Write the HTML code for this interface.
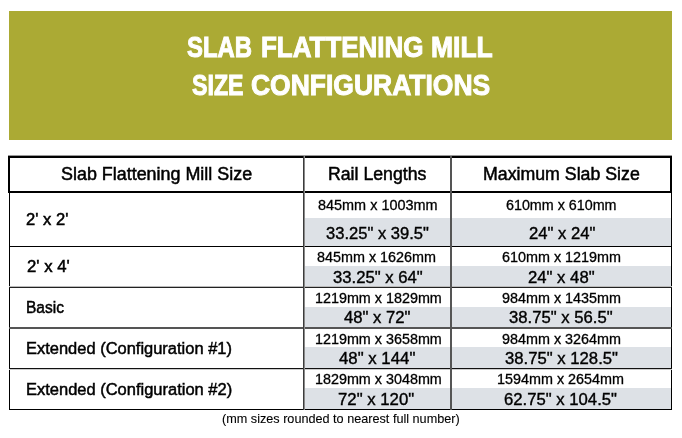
<!DOCTYPE html>
<html><head><meta charset="utf-8"><style>
*{margin:0;padding:0;box-sizing:border-box}
html,body{width:682px;height:438px;overflow:hidden;background:#fff}
body{position:relative;font-family:"Liberation Sans",Arial,sans-serif}
.b{position:absolute}
.t{position:absolute;white-space:nowrap;line-height:1;transform-origin:0 0}
.mk{display:inline-block;width:0;height:0;vertical-align:baseline}
</style></head>
<body>
<div class="b" style="left:9px;top:11px;width:663px;height:129px;background:#abaa34"></div>
<div class="b" style="left:305px;top:218px;width:366px;height:28px;background:#dde1e6"></div>
<div class="b" style="left:305px;top:266px;width:366px;height:20px;background:#dde1e6"></div>
<div class="b" style="left:305px;top:307px;width:366px;height:20px;background:#dde1e6"></div>
<div class="b" style="left:305px;top:347px;width:366px;height:21px;background:#dde1e6"></div>
<div class="b" style="left:305px;top:388px;width:366px;height:21px;background:#dde1e6"></div>
<div class="b" style="left:8px;top:155px;width:664px;height:1px;background:#999"></div>
<div class="b" style="left:8px;top:156px;width:664px;height:37px;border:2px solid #000"></div>
<div class="b" style="left:9px;top:193px;width:1px;height:217px;background:#000"></div>
<div class="b" style="left:671px;top:193px;width:1px;height:217px;background:#000"></div>
<div class="b" style="left:9px;top:246px;width:663px;height:1px;background:#000"></div>
<div class="b" style="left:9px;top:286px;width:663px;height:1px;background:#bbb"></div>
<div class="b" style="left:9px;top:287px;width:663px;height:1px;background:#222"></div>
<div class="b" style="left:9px;top:327px;width:663px;height:1px;background:#555"></div>
<div class="b" style="left:9px;top:328px;width:663px;height:1px;background:#555"></div>
<div class="b" style="left:9px;top:368px;width:663px;height:1px;background:#111"></div>
<div class="b" style="left:9px;top:369px;width:663px;height:1px;background:#ccc"></div>
<div class="b" style="left:9px;top:409px;width:663px;height:1px;background:#000"></div>
<div class="b" style="left:303px;top:156px;width:1px;height:254px;background:#3c3c3c"></div>
<div class="b" style="left:304px;top:156px;width:1px;height:254px;background:#8a8a8a"></div>
<div class="b" style="left:450px;top:156px;width:2px;height:254px;background:#555"></div>
<div class="t" id="t1a" style="left:187.23px;top:32.70px;font-size:29px;font-weight:700;color:#fff;-webkit-text-stroke:1.0px #fff;transform:scaleX(0.8224)">SLAB<span class="mk"></span></div>
<div class="t" id="t1b" style="left:260.69px;top:32.70px;font-size:29px;font-weight:700;color:#fff;-webkit-text-stroke:1.0px #fff;transform:scaleX(0.8953)">FLATTENING<span class="mk"></span></div>
<div class="t" id="t1c" style="left:431.13px;top:32.70px;font-size:29px;font-weight:700;color:#fff;-webkit-text-stroke:1.0px #fff;transform:scaleX(0.9129)">MILL<span class="mk"></span></div>
<div class="t" id="t2a" style="left:191.57px;top:71.40px;font-size:29px;font-weight:700;color:#fff;-webkit-text-stroke:1.0px #fff;transform:scaleX(0.7993)">SIZE<span class="mk"></span></div>
<div class="t" id="t2b" style="left:251.23px;top:71.40px;font-size:29px;font-weight:700;color:#fff;-webkit-text-stroke:1.0px #fff;transform:scaleX(0.9129)">CONFIGURATIONS<span class="mk"></span></div>
<div class="t" id="h1" style="left:61.04px;top:165.21px;font-size:18px;font-weight:400;color:#000;-webkit-text-stroke:0.5px #000;transform:scaleX(0.9948)">Slab Flattening Mill Size<span class="mk"></span></div>
<div class="t" id="h2" style="left:328.22px;top:165.21px;font-size:18px;font-weight:400;color:#000;-webkit-text-stroke:0.5px #000;transform:scaleX(0.9830)">Rail Lengths<span class="mk"></span></div>
<div class="t" id="h3" style="left:483.21px;top:165.21px;font-size:18px;font-weight:400;color:#000;-webkit-text-stroke:0.5px #000;transform:scaleX(0.9855)">Maximum Slab Size<span class="mk"></span></div>
<div class="t" id="c1" style="left:26.36px;top:210.90px;font-size:17.4px;font-weight:400;color:#000;-webkit-text-stroke:0.5px #000;transform:scaleX(0.9554)">2' x 2'<span class="mk"></span></div>
<div class="t" id="c2" style="left:26.60px;top:257.60px;font-size:17.4px;font-weight:400;color:#000;-webkit-text-stroke:0.5px #000;transform:scaleX(0.9634)">2' x 4'<span class="mk"></span></div>
<div class="t" id="c3" style="left:26.04px;top:299.01px;font-size:17.4px;font-weight:400;color:#000;-webkit-text-stroke:0.5px #000;transform:scaleX(0.8925)">Basic<span class="mk"></span></div>
<div class="t" id="c4" style="left:26.20px;top:339.81px;font-size:17.4px;font-weight:400;color:#000;-webkit-text-stroke:0.5px #000;transform:scaleX(0.9467)">Extended (Configuration #1)<span class="mk"></span></div>
<div class="t" id="c5" style="left:26.20px;top:380.60px;font-size:17.4px;font-weight:400;color:#000;-webkit-text-stroke:0.5px #000;transform:scaleX(0.9478)">Extended (Configuration #2)<span class="mk"></span></div>
<div class="t" id="m1" style="left:317.54px;top:197.80px;font-size:14.1px;font-weight:400;color:#000;-webkit-text-stroke:0.3px #000;transform:scaleX(1.0246)">845mm x 1003mm<span class="mk"></span></div>
<div class="t" id="i1" style="left:325.95px;top:224.91px;font-size:17px;font-weight:400;color:#000;-webkit-text-stroke:0.4px #000;transform:scaleX(0.9742)">33.25" x 39.5"<span class="mk"></span></div>
<div class="t" id="m2" style="left:317.36px;top:250.30px;font-size:14.1px;font-weight:400;color:#000;-webkit-text-stroke:0.3px #000;transform:scaleX(1.0193)">845mm x 1626mm<span class="mk"></span></div>
<div class="t" id="i2" style="left:332.50px;top:268.72px;font-size:17px;font-weight:400;color:#000;-webkit-text-stroke:0.4px #000;transform:scaleX(0.9814)">33.25" x 64"<span class="mk"></span></div>
<div class="t" id="m3" style="left:314.56px;top:290.71px;font-size:14.1px;font-weight:400;color:#000;-webkit-text-stroke:0.3px #000;transform:scaleX(1.0181)">1219mm x 1829mm<span class="mk"></span></div>
<div class="t" id="i3" style="left:344.28px;top:308.50px;font-size:17px;font-weight:400;color:#000;-webkit-text-stroke:0.4px #000;transform:scaleX(0.9795)">48" x 72"<span class="mk"></span></div>
<div class="t" id="m4" style="left:314.56px;top:331.51px;font-size:14.1px;font-weight:400;color:#000;-webkit-text-stroke:0.3px #000;transform:scaleX(1.0181)">1219mm x 3658mm<span class="mk"></span></div>
<div class="t" id="i4" style="left:339.38px;top:349.50px;font-size:17px;font-weight:400;color:#000;-webkit-text-stroke:0.4px #000;transform:scaleX(0.9877)">48" x 144"<span class="mk"></span></div>
<div class="t" id="m5" style="left:314.56px;top:371.51px;font-size:14.1px;font-weight:400;color:#000;-webkit-text-stroke:0.3px #000;transform:scaleX(1.0181)">1829mm x 3048mm<span class="mk"></span></div>
<div class="t" id="i5" style="left:338.43px;top:390.81px;font-size:17px;font-weight:400;color:#000;-webkit-text-stroke:0.4px #000;transform:scaleX(0.9853)">72" x 120"<span class="mk"></span></div>
<div class="t" id="n1" style="left:505.62px;top:197.80px;font-size:14.1px;font-weight:400;color:#000;-webkit-text-stroke:0.3px #000;transform:scaleX(1.0152)">610mm x 610mm<span class="mk"></span></div>
<div class="t" id="j1" style="left:528.79px;top:224.91px;font-size:17px;font-weight:400;color:#000;-webkit-text-stroke:0.4px #000;transform:scaleX(0.9790)">24" x 24"<span class="mk"></span></div>
<div class="t" id="n2" style="left:502.31px;top:250.30px;font-size:14.1px;font-weight:400;color:#000;-webkit-text-stroke:0.3px #000;transform:scaleX(1.0197)">610mm x 1219mm<span class="mk"></span></div>
<div class="t" id="j2" style="left:528.38px;top:268.61px;font-size:17px;font-weight:400;color:#000;-webkit-text-stroke:0.4px #000;transform:scaleX(0.9816)">24" x 48"<span class="mk"></span></div>
<div class="t" id="n3" style="left:502.35px;top:290.71px;font-size:14.1px;font-weight:400;color:#000;-webkit-text-stroke:0.3px #000;transform:scaleX(1.0197)">984mm x 1435mm<span class="mk"></span></div>
<div class="t" id="j3" style="left:509.17px;top:308.91px;font-size:17px;font-weight:400;color:#000;-webkit-text-stroke:0.4px #000;transform:scaleX(0.9816)">38.75" x 56.5"<span class="mk"></span></div>
<div class="t" id="n4" style="left:502.35px;top:331.51px;font-size:14.1px;font-weight:400;color:#000;-webkit-text-stroke:0.3px #000;transform:scaleX(1.0197)">984mm x 3264mm<span class="mk"></span></div>
<div class="t" id="j4" style="left:504.56px;top:349.91px;font-size:17px;font-weight:400;color:#000;-webkit-text-stroke:0.4px #000;transform:scaleX(0.9816)">38.75" x 128.5"<span class="mk"></span></div>
<div class="t" id="n5" style="left:497.48px;top:371.51px;font-size:14.1px;font-weight:400;color:#000;-webkit-text-stroke:0.3px #000;transform:scaleX(1.0197)">1594mm x 2654mm<span class="mk"></span></div>
<div class="t" id="j5" style="left:504.42px;top:390.50px;font-size:17px;font-weight:400;color:#000;-webkit-text-stroke:0.4px #000;transform:scaleX(0.9816)">62.75" x 104.5"<span class="mk"></span></div>
<div class="t" id="f1" style="left:221.83px;top:412.81px;font-size:12.2px;font-weight:400;color:#000;-webkit-text-stroke:0.1px #000;transform:scaleX(1.0382)">(mm sizes rounded to nearest full number)<span class="mk"></span></div>
</body></html>
